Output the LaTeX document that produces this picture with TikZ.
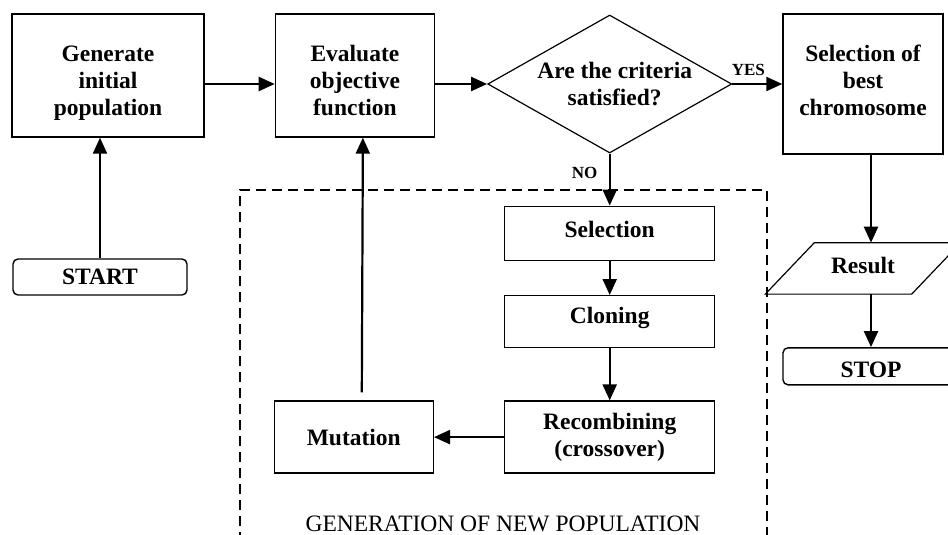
\documentclass[tikz,border=0pt]{standalone}
\usepackage{fontspec}
\setmainfont{Liberation Serif}
\usetikzlibrary{shapes.geometric,arrows.meta,positioning,calc}

% invisible rules to move box text up or down
\newcommand{\liftup}[1]{\rule[-#1]{0pt}{#1}}
\newcommand{\pushdown}[1]{\rule{0pt}{#1}}

\begin{document}
\begin{tikzpicture}[
    x=1pt, y=-1pt,
    node distance=50pt,
    every node/.style={font=\bfseries\fontsize{23.5}{27}\selectfont},
    procbox/.style={rectangle, draw, line width=1.4pt, align=center, inner sep=0pt},
    termbox/.style={rectangle, draw, line width=1.4pt, rounded corners=5pt, align=center, inner sep=0pt},
    decision/.style={diamond, draw, line width=1.2pt, inner sep=0pt, minimum width=244pt, minimum height=138pt},
    iobox/.style={rectangle, align=center, inner sep=0pt, minimum width=146pt, minimum height=51pt},
    groupbox/.style={rectangle, draw, line width=1.6pt, dash pattern=on 10pt off 6pt, anchor=north west, inner sep=0pt},
    arrow/.style={-{Triangle[length=16pt,width=14pt]}, line width=2.2pt},
    answer/.style={font=\bfseries\fontsize{17}{20}\selectfont}
]
    \useasboundingbox (0,0) rectangle (948,535);
    \clip (0,0) rectangle (948,535);

    % Main row
    \node[procbox, minimum width=192pt, minimum height=123pt] (gen) at (108,75.5) {\pushdown{32pt}Generate\\initial\\population};
    \node[procbox, minimum width=159pt, minimum height=123pt, right=70pt of gen] (eval) {\pushdown{26pt}Evaluate\\objective\\function};
    \node[decision, right=52pt of eval, yshift=-8.5pt] (crit) {};
    \node[align=center, inner sep=0pt, xshift=5pt] (crittext) at (crit) {Are the criteria\\satisfied?};
    \node[procbox, minimum width=160pt, minimum height=140pt, right=50pt of crit] (best) {Selection of\\best\\chromosome\liftup{8pt}};

    % Start
    \node[termbox, minimum width=174pt, minimum height=36pt] (start) at (100,277) {START};

    % New population
    \node[groupbox, minimum width=527pt, minimum height=380pt] (newpop) at (239,189) {};
    \node[procbox, minimum width=210pt, minimum height=54pt, below=52pt of crit] (sel) {Selection\liftup{8pt}};
    \node[procbox, minimum width=210pt, minimum height=52pt, below=34pt of sel] (clon) {Cloning\liftup{13pt}};
    \node[procbox, minimum width=210pt, minimum height=72pt, below=52pt of clon] (recomb) {Recombining\\(crossover)};
    \node[procbox, minimum width=159pt, minimum height=72pt, left=70pt of recomb] (mut) {Mutation};
    \node[font=\mdseries\fontsize{23.5}{27}\selectfont, anchor=base] (newlabel) at (503,531) {GENERATION OF NEW POPULATION};

    % Result and stop
    \node[iobox, below=88pt of best] (res) {Result\liftup{6pt}};
    \draw[line width=1.2pt] ([xshift=-24.5pt]res.south west) -- ([xshift=-24.5pt]res.south east)
        -- ([xshift=24.5pt]res.north east) -- ([xshift=24.5pt]res.north west) -- cycle;
    \node[termbox, minimum width=176pt, minimum height=37pt, below=53pt of res, xshift=8pt] (stop) {\pushdown{22pt}STOP};

    % Arrows
    \draw[arrow] (start.north) -- (start.north |- gen.south);
    \draw[arrow] (gen.east |- crit) -- (eval.west |- crit);
    \draw[arrow] (eval.east |- crit) -- (crit.west);
    \draw[arrow] (crit.east) -- (best.west) node[answer, pos=0.32, above=4pt] {YES};
    \draw[arrow] (crit.south) -- (sel.north) node[answer, pos=0.37, left=8pt] {NO};
    \draw[arrow] (sel) -- (clon);
    \draw[arrow] (clon) -- (recomb);
    \draw[arrow] (recomb) -- (mut);
    \draw[arrow] ([xshift=8pt,yshift=8pt]mut.north) -- ([xshift=8pt]eval.south);
    \draw[arrow] ([xshift=8pt]best.south) -- ([xshift=8pt]res.north);
    \draw[arrow] ([xshift=8pt]res.south) -- (stop.north);
\end{tikzpicture}
\end{document}
